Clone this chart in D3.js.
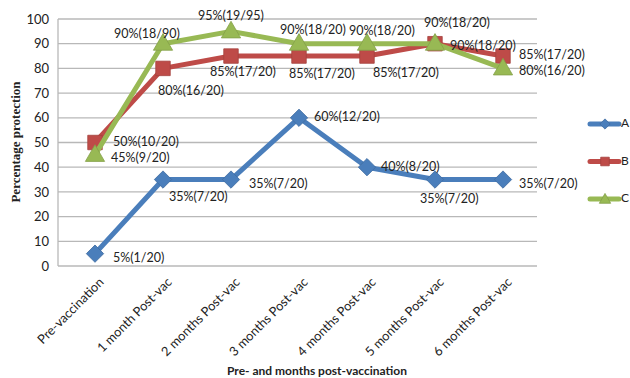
<!DOCTYPE html>
<html><head><meta charset="utf-8">
<script src="https://cdn.jsdelivr.net/npm/d3@7"></script>
<style>body{margin:0;background:#fff}svg{display:block}</style>
</head><body>
<svg id="c" width="630" height="378"></svg>
<script>
const categories = ["Pre-vaccination","1 month Post-vac","2 months Post-vac","3 months Post-vac","4 months Post-vac","5 months Post-vac","6 months Post-vac"];
const seriesNames = ["A","B","C"];
const valuesA = [5,35,35,60,40,35,35];
const valuesB = [50,80,85,85,85,90,85];
const valuesC = [45,90,95,90,90,90,80];
const labelsA = ["5%(1/20)","35%(7/20)","35%(7/20)","60%(12/20)","40%(8/20)","35%(7/20)","35%(7/20)"];
const labelsB = ["50%(10/20)","80%(16/20)","85%(17/20)","85%(17/20)","85%(17/20)","90%(18/20)","85%(17/20)"];
const labelsC = ["45%(9/20)","90%(18/90)","95%(19/95)","90%(18/20)","90%(18/20)","90%(18/20)","80%(16/20)"];
const yTicks = [0,10,20,30,40,50,60,70,80,90,100];

// label placement (style): dx, dy offsets from the point
const placeA = [[18,5],[6,18],[18,5],[15,0],[14,1],[-15,20],[16,5]];
const placeB = [[18,0],[-5,23],[-21,17],[-10,19],[6,18],[15,3],[16,0]];
const placeC = [[16,4],[-49,-9],[-33,-15],[-19,-13],[-18,-12],[-11,-20],[16,3]];

const colors = {A:"#4A7EBB", B:"#BE4B48", C:"#98B954"};
const series = [
  {name:"A", values:valuesA, labels:labelsA, place:placeA, marker:"diamond"},
  {name:"B", values:valuesB, labels:labelsB, place:placeB, marker:"square"},
  {name:"C", values:valuesC, labels:labelsC, place:placeC, marker:"triangle"}
];

const svg = d3.select("#c");
const L = 61, R = 537, T = 19, B = 266;
const x = d3.scalePoint().domain(categories).range([L, R]).padding(0.5);
const y = d3.scaleLinear().domain([0,100]).range([B, T]);
const font = "Lato, 'Open Sans', sans-serif";

// gridlines
svg.append("g").selectAll("line").data(yTicks).join("line")
  .attr("x1", L-3).attr("x2", R).attr("y1", d=>y(d)).attr("y2", d=>y(d))
  .attr("stroke", "#b8b8b8").attr("stroke-width", 1.3);
svg.append("line").attr("x1", L-3).attr("x2", L-3).attr("y1", y(100)).attr("y2", y(0))
  .attr("stroke", "#b8b8b8").attr("stroke-width", 1.3);

// y axis
const yAxis = svg.append("g").attr("transform", `translate(${L-3},0)`)
  .call(d3.axisLeft(y).tickValues(yTicks).tickSize(0).tickPadding(9));
yAxis.select(".domain").remove();
yAxis.selectAll("text").attr("font-family", font).attr("font-size", 13).attr("fill", "#222");

// x axis labels
const xAxis = svg.append("g").attr("transform", `translate(0,${B})`)
  .call(d3.axisBottom(x).tickSize(0).tickPadding(0));
xAxis.select(".domain").remove();
xAxis.selectAll("text")
  .attr("font-family", font).attr("font-size", 12.8).attr("fill", "#222")
  .attr("text-anchor", "end").attr("dy", 0).attr("y", 0)
  .attr("transform", "translate(9,17) rotate(-45)");

// titles
svg.append("text").attr("transform", "translate(20,142) rotate(-90)")
  .attr("text-anchor", "middle").attr("font-family", "'Liberation Serif', 'DejaVu Serif', serif")
  .attr("font-weight", "bold").attr("font-size", 13).attr("fill", "#222")
  .text("Percentage protection");
svg.append("text").attr("x", 317).attr("y", 375)
  .attr("text-anchor", "middle").attr("font-family", font)
  .attr("font-weight", "bold").attr("font-size", 12).attr("fill", "#222")
  .text("Pre- and months post-vaccination");

function drawMarker(g, type, cx, cy, color, scale=1) {
  const stroke = d3.color(color).darker(0.4);
  if (type === "diamond") {
    g.append("path").attr("d", d3.symbol().type(d3.symbolSquare).size(150*scale)())
      .attr("transform", `translate(${cx},${cy}) rotate(45)`)
      .attr("fill", color).attr("stroke", stroke).attr("stroke-width", 0.8);
  } else if (type === "square") {
    g.append("path").attr("d", d3.symbol().type(d3.symbolSquare).size(210*scale)())
      .attr("transform", `translate(${cx},${cy})`)
      .attr("fill", color).attr("stroke", stroke).attr("stroke-width", 0.8);
  } else {
    g.append("path").attr("d", d3.symbol().type(d3.symbolTriangle).size(160*scale)())
      .attr("transform", `translate(${cx},${cy+1})`)
      .attr("fill", color).attr("stroke", stroke).attr("stroke-width", 0.8);
  }
}

const line = d3.line().x((d,i)=>x(categories[i])).y(d=>y(d));
series.forEach(s => {
  const g = svg.append("g");
  g.append("path").datum(s.values).attr("d", line)
    .attr("fill", "none").attr("stroke", colors[s.name]).attr("stroke-width", 5)
    .attr("stroke-linejoin", "round");
  s.values.forEach((v,i) => drawMarker(g, s.marker, x(categories[i]), y(v), colors[s.name]));
});
// data labels on top
series.forEach(s => {
  svg.append("g").selectAll("text").data(s.values).join("text")
    .attr("x", (d,i)=>x(categories[i]) + s.place[i][0])
    .attr("y", (d,i)=>y(d) + s.place[i][1])
    .attr("font-family", font).attr("font-size", 12.5).attr("fill", "#222")
    .attr("dominant-baseline", "middle")
    .text((d,i)=>s.labels[i]);
});

// legend
const lg = svg.append("g");
series.forEach((s, i) => {
  const ly = 124 + i*37.5;
  lg.append("line").attr("x1", 590).attr("x2", 619).attr("y1", ly).attr("y2", ly)
    .attr("stroke", colors[s.name]).attr("stroke-width", 5).attr("stroke-linecap", "round");
  drawMarker(lg, s.marker, 605, ly, colors[s.name], 0.35);
  lg.append("text").attr("x", 621).attr("y", ly).attr("dominant-baseline", "middle")
    .attr("font-family", font).attr("font-size", 12).attr("fill", "#222").text(s.name);
});
</script>
</body></html>
